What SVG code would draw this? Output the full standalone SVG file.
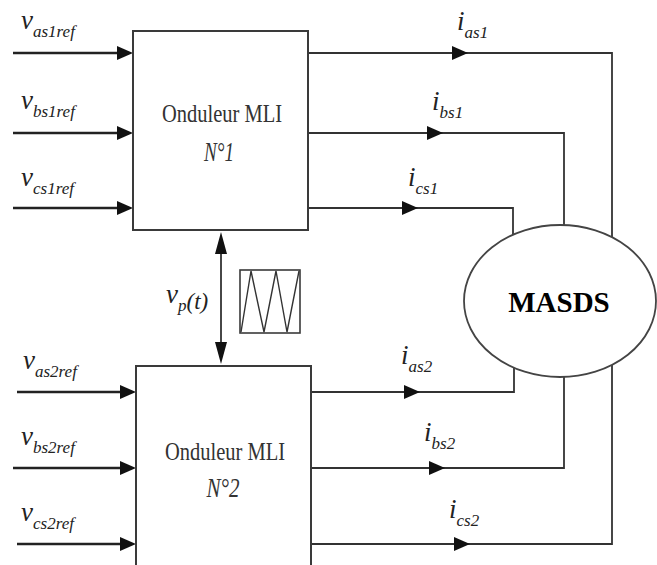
<svg xmlns="http://www.w3.org/2000/svg" xmlns:xlink="http://www.w3.org/1999/xlink" width="657" height="565" viewBox="0 0 657 565">
<style>
.box{fill:#fff;stroke:#3a3a3a;stroke-width:2}
.ln{fill:none;stroke:#222;stroke-width:2.5}
.ln2{fill:none;stroke:#333;stroke-width:1.8}
.ah{fill:#111}
.lbl{font-family:"Liberation Serif",serif;font-style:italic;fill:#222}
.big{font-size:27px}
.sub{font-size:17px}
.ttl{font-family:"Liberation Serif",serif;font-size:26px;fill:#333}
.num{font-family:"Liberation Serif",serif;font-style:italic;font-size:28px;fill:#333}
.mas{font-family:"Liberation Serif",serif;font-weight:bold;font-size:29px;fill:#000}
</style>
<defs>
<path id="ar" d="M0,0 L-16,-7 L-16,7 Z" class="ah"/>
<path id="au" d="M0,0 L-6,22 L6,22 Z" class="ah"/>
</defs>
<g id="connectors">
<line class="ln" x1="13" y1="53" x2="125" y2="53"/>
<line class="ln" x1="13" y1="133" x2="125" y2="133"/>
<line class="ln" x1="13" y1="208" x2="125" y2="208"/>
<line class="ln" x1="17" y1="392" x2="128" y2="392"/>
<line class="ln" x1="13" y1="468" x2="128" y2="468"/>
<line class="ln" x1="17" y1="544" x2="128" y2="544"/>
<use xlink:href="#ar" href="#ar" x="133" y="53"/>
<use xlink:href="#ar" href="#ar" x="133" y="133"/>
<use xlink:href="#ar" href="#ar" x="133" y="208"/>
<use xlink:href="#ar" href="#ar" x="136" y="392"/>
<use xlink:href="#ar" href="#ar" x="136" y="468"/>
<use xlink:href="#ar" href="#ar" x="136" y="544"/>
<polyline class="ln2" points="308,53 612,53 612,237"/>
<polyline class="ln2" points="308,133 564,133 564,225"/>
<polyline class="ln2" points="308,208 513,208 513,235"/>
<polyline class="ln2" points="311,392 514,392 514,367"/>
<polyline class="ln2" points="311,468 564,468 564,377"/>
<polyline class="ln2" points="311,544 612,544 612,365"/>
<use xlink:href="#ar" href="#ar" x="468" y="53"/>
<use xlink:href="#ar" href="#ar" x="443" y="133"/>
<use xlink:href="#ar" href="#ar" x="418" y="208"/>
<use xlink:href="#ar" href="#ar" x="420" y="392"/>
<use xlink:href="#ar" href="#ar" x="445" y="468"/>
<use xlink:href="#ar" href="#ar" x="470" y="544"/>
<line class="ln2" x1="221" y1="240" x2="221" y2="356"/>
<use xlink:href="#au" href="#au" x="221" y="232"/>
<use xlink:href="#au" href="#au" transform="translate(221,364) scale(1,-1)"/>
<text class="lbl" x="21" y="29"><tspan class="big">v</tspan><tspan class="sub" dy="8">as1ref</tspan></text>
<text class="lbl" x="21" y="109"><tspan class="big">v</tspan><tspan class="sub" dy="8">bs1ref</tspan></text>
<text class="lbl" x="21" y="186"><tspan class="big">v</tspan><tspan class="sub" dy="8">cs1ref</tspan></text>
<text class="lbl" x="23" y="369"><tspan class="big">v</tspan><tspan class="sub" dy="8">as2ref</tspan></text>
<text class="lbl" x="21" y="445"><tspan class="big">v</tspan><tspan class="sub" dy="8">bs2ref</tspan></text>
<text class="lbl" x="21" y="521"><tspan class="big">v</tspan><tspan class="sub" dy="8">cs2ref</tspan></text>
<text class="lbl" x="457" y="30"><tspan class="big">i</tspan><tspan class="sub" dy="8">as1</tspan></text>
<text class="lbl" x="432" y="110"><tspan class="big">i</tspan><tspan class="sub" dy="8">bs1</tspan></text>
<text class="lbl" x="408" y="186"><tspan class="big">i</tspan><tspan class="sub" dy="8">cs1</tspan></text>
<text class="lbl" x="401" y="364"><tspan class="big">i</tspan><tspan class="sub" dy="8">as2</tspan></text>
<text class="lbl" x="424" y="441"><tspan class="big">i</tspan><tspan class="sub" dy="8">bs2</tspan></text>
<text class="lbl" x="449" y="518"><tspan class="big">i</tspan><tspan class="sub" dy="8">cs2</tspan></text>
<text class="lbl" x="166" y="303"><tspan class="big">v</tspan><tspan class="sub" dy="8">p</tspan><tspan style="font-size:23px" dy="-2">(t)</tspan></text>
</g>
<g id="box1">
<rect class="box" x="133" y="31" width="175" height="199"/>
<text class="ttl" x="222" y="122" text-anchor="middle" textLength="120" lengthAdjust="spacingAndGlyphs">Onduleur MLI</text>
<text class="num" x="219" y="161" text-anchor="middle" textLength="30" lengthAdjust="spacingAndGlyphs">N°1</text>
</g>
<g id="box2">
<rect class="box" x="136" y="366" width="175" height="210"/>
<text class="ttl" x="225" y="460" text-anchor="middle" textLength="120" lengthAdjust="spacingAndGlyphs">Onduleur MLI</text>
<text class="num" x="223" y="497" text-anchor="middle" textLength="33" lengthAdjust="spacingAndGlyphs">N°2</text>
</g>
<g id="carrier">
<rect class="box" x="240" y="270" width="60" height="63" style="stroke-width:1.6"/>
<polyline class="ln2" points="241,332 251,271 264,332 276,271 287,332 299,271" style="stroke-width:1.4"/>
</g>
<g id="masds">
<ellipse cx="560" cy="301" rx="96" ry="76" fill="#fff" stroke="#444" stroke-width="1.8"/>
<text class="mas" x="559" y="312" text-anchor="middle">MASDS</text>
</g>
</svg>
